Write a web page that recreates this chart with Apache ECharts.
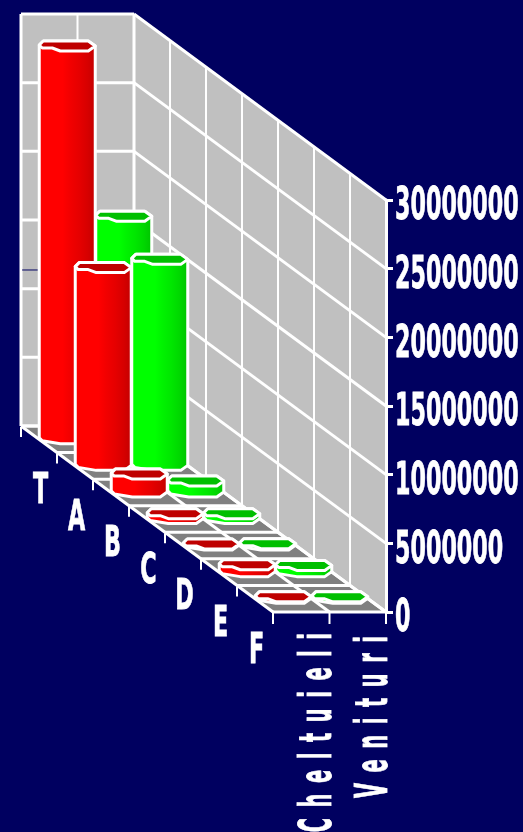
<!DOCTYPE html>
<html>
<head>
<meta charset="utf-8">
<style>html,body{margin:0;padding:0;background:#000060}#c{width:523px;height:832px}</style>
<script src="https://cdn.jsdelivr.net/npm/echarts@6/dist/echarts.min.js"></script>
</head>
<body>
<div id="c"></div>
<script>
const categories = ['T','A','B','C','D','E','F'];
const seriesNames = ['Cheltuieli','Venituri'];
const cheltuieli = [28600000,14400000,1300000,350000,80000,500000,100000];
const venituri = [16200000,15000000,800000,350000,100000,450000,100000];
const tickLabels = ['0','5000000','10000000','15000000','20000000','25000000','30000000'];
const tickValues = [0,5000000,10000000,15000000,20000000,25000000,30000000];

const WHITE = '#ffffff', FONT = '"DejaVu Sans"';
const SER_DX = 56.5, DEPTH_DY = 186, NCAT = categories.length;
// outline of the bar's section, in pixels round its centre
const SECTION = [[-28,-1.5],[-24,-5.5],[21,-5.5],[28,-.5],[21,4.5],[-7,4.5],[-15,1.5],[-25,1.5]];

function proj(api, c, s, v) {
  const p = api.coord([c, v]);
  return [p[0] + s * SER_DX, p[1] + (c / NCAT - 1) * DEPTH_DY];
}
function line(a, b, w, color) {
  return {type:'line', shape:{x1:a[0],y1:a[1],x2:b[0],y2:b[1]}, style:{stroke:color||WHITE, lineWidth:w}, silent:true};
}
function poly(points, fill, stroke, w, z2) {
  return {type:'polygon', shape:{points}, style:{fill, stroke:stroke||null, lineWidth:w||0, lineJoin:'round'}, z2:z2||0, silent:true};
}
function hull(pts) {
  const p = pts.slice().sort((a,b)=>a[0]-b[0]||a[1]-b[1]);
  const cr = (o,a,b)=>(a[0]-o[0])*(b[1]-o[1])-(a[1]-o[1])*(b[0]-o[0]);
  const lo=[], up=[];
  for (const q of p){ while(lo.length>1&&cr(lo[lo.length-2],lo[lo.length-1],q)<=0)lo.pop(); lo.push(q); }
  for (const q of p.reverse()){ while(up.length>1&&cr(up[up.length-2],up[up.length-1],q)<=0)up.pop(); up.push(q); }
  return lo.slice(0,-1).concat(up.slice(0,-1));
}
function shade(r) {
  const stops = [[0,1],[.42,1],[.55,.95],[.7,.9],[.85,.84],[.95,.78],[1,.76]];
  return {type:'linear',x:0,y:0,x2:1,y2:0,colorStops:stops.map(([o,k])=>{
    const l = Math.round(255*k);
    return {offset:o,color:r?`rgb(${l},0,0)`:`rgb(0,${l},0)`};
  })};
}

function renderFrame(params, api) {
  const maxV = tickValues[tickValues.length-1], ch = [];
  ch.push(poly([proj(api,0,0,0),proj(api,0,2,0),proj(api,NCAT,2,0),proj(api,NCAT,0,0)],'#808080'));
  ch.push(poly([proj(api,0,0,0),proj(api,0,2,0),proj(api,0,2,maxV),proj(api,0,0,maxV)],'#c0c0c0'));
  ch.push(poly([proj(api,0,2,0),proj(api,NCAT,2,0),proj(api,NCAT,2,maxV),proj(api,0,2,maxV)],'#c0c0c0'));
  tickValues.forEach(v=>{
    ch.push(line(proj(api,0,0,v),proj(api,0,2,v),3));
    ch.push(line(proj(api,0,2,v),proj(api,NCAT,2,v),3));
  });
  for (let s=0;s<=2;s++){
    ch.push(line(proj(api,0,s,0),proj(api,0,s,maxV),s===1?2:3));
    ch.push(line(proj(api,0,s,0),proj(api,NCAT,s,0),3));
    const f = proj(api,NCAT,s,0);
    ch.push(line(f,[f[0],f[1]+12],2));
  }
  for (let c=0;c<=NCAT;c++){
    ch.push(line(proj(api,c,0,0),proj(api,c,2,0),3));
    if (c>0) ch.push(line(proj(api,c,2,0),proj(api,c,2,maxV),2));
    const f = proj(api,c,0,0);
    if (c<NCAT) ch.push(line([f[0],f[1]+1],[f[0],f[1]+11],2));
  }
  ch.push(line(proj(api,0,.02,11360000),proj(api,0,.3,11360000),1,'#000060'));
  return {type:'group',children:ch};
}

function barRenderer(serIdx, red) {
  return function(params, api) {
    const c = api.value(0), v = api.value(1);
    const base = proj(api,c,serIdx+.5,0), top = proj(api,c,serIdx+.5,v);
    const B = SECTION.map(o=>[base[0]+o[0],base[1]+o[1]]);
    const T = SECTION.map(o=>[top[0]+o[0],top[1]+o[1]]);
    const z = Math.floor(c)*10+serIdx*2+10;
    return {type:'group',children:[
      poly(hull(B.concat(T)),shade(red),WHITE,3,z),
      poly(T,red?'#bf0000':'#00bf00',WHITE,3,z+1)
    ]};
  };
}

function text(str,x,y,opt){
  return Object.assign({type:'text',x,y,scaleX:opt.sx||.505,silent:true,
    style:{text:str,fontFamily:FONT,fontWeight:'bold',fontSize:opt.size||44,fill:WHITE,stroke:WHITE,lineWidth:.8,align:opt.align||'left',verticalAlign:'middle'}},opt.extra||{});
}
function renderLabels(params, api) {
  const ch = [];
  tickValues.forEach((v,i)=>{
    const p = proj(api,NCAT,2,v);
    ch.push(text(tickLabels[i],p[0]+9,p[1]+8,{}));
  });
  categories.forEach((n,i)=>{
    const p = proj(api,i+.5,0,0);
    ch.push(text(n,p[0]+1.5,p[1]+53,{align:'center',size:42,sx:.53}));
  });
  seriesNames.forEach((n,i)=>{
    const p = proj(api,NCAT,i+.5,0);
    const spaced = n.split('').join(' \u2009');
    ch.push(text(spaced,p[0]+18,p[1]+21+i*3,{align:'right',size:44,sx:.44,extra:{rotation:Math.PI/2}}));
  });
  return {type:'group',children:ch};
}

const chart = echarts.init(document.getElementById('c'),null,{renderer:'canvas'});
chart.setOption({
  animation:false,
  backgroundColor:'#000060',
  grid:{left:21,top:200,width:252,height:412,containLabel:false},
  xAxis:{type:'value',min:0,max:NCAT,show:false},
  yAxis:{type:'value',min:0,max:30000000,interval:5000000,position:'right',offset:113,
    axisLine:{show:true,onZero:false,lineStyle:{color:WHITE,width:3}},
    axisTick:{show:true,length:7,inside:false,lineStyle:{color:WHITE,width:3}},
    axisLabel:{show:false},splitLine:{show:false}},
  series:[
    {type:'custom',name:'frame',z:1,renderItem:renderFrame,data:[[0,0]],clip:false,silent:true},
    {type:'custom',name:seriesNames[0],z:2,renderItem:barRenderer(0,true),clip:false,silent:true,
      data:cheltuieli.map((v,i)=>[i+.5,v])},
    {type:'custom',name:seriesNames[1],z:2,renderItem:barRenderer(1,false),clip:false,silent:true,
      data:venituri.map((v,i)=>[i+.5,v])},
    {type:'custom',name:'labels',z:3,renderItem:renderLabels,data:[[0,0]],clip:false,silent:true}
  ]
});
</script>
</body>
</html>
